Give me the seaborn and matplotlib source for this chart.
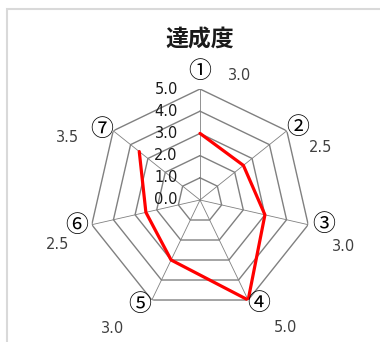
import numpy as np
import matplotlib.pyplot as plt
import matplotlib.patches as mpatches
import seaborn as sns
import pandas as pd

# data
categories = ['①', '②', '③', '④', '⑤', '⑥', '⑦']
scores = [3.0, 2.5, 3.0, 5.0, 3.0, 2.5, 3.5]
ring_levels = [1.0, 2.0, 3.0, 4.0, 5.0]
tick_values = [0.0, 1.0, 2.0, 3.0, 4.0, 5.0]
title = '達成度'

sns.set_theme(style='white')
plt.rcParams['font.family'] = ['Noto Sans CJK JP', 'DejaVu Sans']

n = len(categories)
angles = np.linspace(0, 2 * np.pi, n, endpoint=False)
closed_angles = np.append(angles, angles[0])

fig = plt.figure(figsize=(3.8, 3.42), dpi=100)
ax = fig.add_axes([89 / 380, 31 / 342, 222 / 380, 222 / 342], projection='polar')
ax.set_theta_zero_location('N')
ax.set_theta_direction(-1)
ax.set_ylim(0, 5)
ax.grid(False)
ax.spines['polar'].set_visible(False)
ax.set_xticks([])
ax.set_yticks([])
ax.patch.set_alpha(0)

# heptagon rings and spokes
for r in ring_levels:
    ax.plot(closed_angles, [r] * (n + 1), color='#808080', lw=1.0, zorder=1)
for a in angles:
    ax.plot([a, a], [0, 5], color='#808080', lw=0.6, zorder=1)

# series
df = pd.DataFrame({'angle': closed_angles, 'score': scores + scores[:1]})
sns.lineplot(data=df, x='angle', y='score', sort=False, color='#ff0000',
             lw=2.3, ax=ax, zorder=3)
ax.set_xlabel('')
ax.set_ylabel('')

# radial tick labels
for v in tick_values:
    ax.annotate(f'{v:.1f}', xy=(0, v), xytext=(-16, 0), textcoords='offset points',
                ha='right', va='center', fontsize=10.5, color='#1a1a1a',
                family='DejaVu Sans', annotation_clip=False)

# category labels and value labels, offsets (px) from the outer vertex
cat_off = [(0, 17), (11, 3), (15, 0), (11, -3), (-12, -4), (-15, -1), (-12, 1)]
val_off = [(40, 14), (34, -17), (35, -22), (37, -27), (-39, -28), (-34, -20), (-46, -7)]
px = 0.72
for a, c, s, co, vo in zip(angles, categories, scores, cat_off, val_off):
    ax.annotate(c, xy=(a, 5), xytext=(co[0] * px, co[1] * px),
                textcoords='offset points', ha='center', va='center',
                fontsize=16.5, color='#000000', annotation_clip=False)
    ax.annotate(f'{s:.1f}', xy=(a, 5), xytext=(vo[0] * px, vo[1] * px),
                textcoords='offset points', ha='center', va='center',
                fontsize=10.5, color='#404040', family='DejaVu Sans',
                annotation_clip=False)

fig.text(200 / 380, 1 - 40 / 342, title, ha='center', va='center',
         fontsize=16.5, fontweight='bold', color='#1a1a1a')

# chart area border
top = 1 - 9 / 342
fig.patches.append(mpatches.Rectangle((7 / 380, -0.2), 1.2, top + 0.2,
                                      transform=fig.transFigure, fill=False,
                                      edgecolor='#d9d9d9', lw=1.5))

fig.savefig('out.png', dpi=100)
